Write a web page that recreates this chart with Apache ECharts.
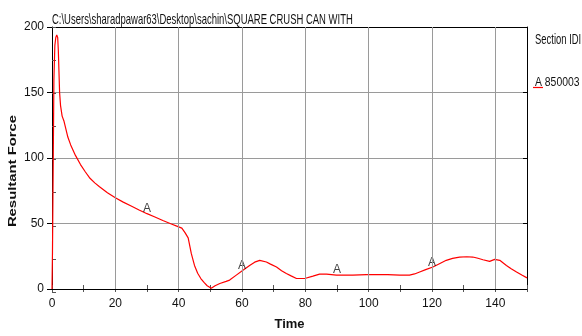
<!DOCTYPE html>
<html>
<head>
<meta charset="utf-8">
<script src="https://cdn.jsdelivr.net/npm/echarts@6/dist/echarts.min.js"></script>
<style>html,body{margin:0;padding:0;background:#fff;}#c{width:582px;height:336px;}</style>
</head>
<body>
<div id="c"></div>
<script>
const titleText = "C:\\Users\\sharadpawar63\\Desktop\\sachin\\SQUARE CRUSH CAN WITH";
const legendTitle = "Section IDI";
const seriesLabel = "A";
const seriesId = "850003";
const xName = "Time";
const yName = "Resultant Force";

const timeValues = [0,0.15,0.4,0.6,0.9,1.2,1.5,1.8,2.0,2.2,2.4,2.7,3.2,3.8,4.2,5.0,5.9,7.4,9,10.5,12,13.5,15,17.5,20,22.5,25,27.5,30,32.5,35,37.5,39.8,41,42,43,44,45,46,47,48,49,50.3,51.5,53,55,56.1,58.2,60.3,62.4,64,65.6,67.7,69,70.9,72.5,74,75.5,77.2,79.8,82.4,84.5,86.7,89.8,92,95,99.3,103,106,109.8,112.9,114.5,116.1,118,120.3,122.5,124.5,126.5,128.7,131,132.9,134.5,136.1,138.2,139.8,141.4,143.5,145,146.7,148.5,150];
const forceValues = [0,28,100,160,186,192,194,192,182,166,150,140,132,128,124,116,110,102,95,89.5,84.5,81,78,73.5,69.6,66.3,63.3,60.3,57.5,55,52.3,49.8,47.6,46.5,43,39,27,18,12,8,5,2.5,0.5,2.5,4.2,5.8,6.8,10.6,14.3,18,20.5,21.9,20.6,19,16.8,14,11.8,10,8,8,9.8,11.3,11.3,10.6,10.6,10.6,11,11,11,10.6,10.6,11.5,13,14.8,16.8,19.5,21.9,23.4,24.4,24.6,24.4,23.5,22.3,21.1,22.6,21.9,18,15.5,13,10.5,8.5];

const markTimes = [30,60,90,120];
const markForces = [57.5,13.8,10.6,16.5];

const xTicks = {min:0, max:150, interval:20, minorInterval:10};
const yTicks = {min:0, max:200, interval:50, minorInterval:25};

const sans = "'Liberation Sans', Arial, sans-serif";

const lineData = timeValues.map((t,i)=>[t, forceValues[i]]);
const markData = markTimes.map((t,i)=>[t, markForces[i]]);

const chart = echarts.init(document.getElementById('c'), null, {renderer:'canvas'});
const black = '#000';
const gridGray = '#9a9a9a';
const gridBox = {left:52, right:55, top:27, bottom:44, containLabel:false};
chart.setOption({
  animation:false,
  backgroundColor:'#fff',
  grid:[Object.assign({}, gridBox), Object.assign({}, gridBox)],
  xAxis:[
    {gridIndex:0, type:'value', position:'bottom', min:xTicks.min, max:xTicks.max, interval:xTicks.interval,
     axisLine:{show:true, onZero:false, lineStyle:{color:black, width:1}},
     axisTick:{show:false},
     splitLine:{show:true, showMinLine:false, showMaxLine:false, lineStyle:{color:gridGray, width:1}},
     axisLabel:{color:'#111', fontFamily:sans, fontSize:12, margin:9, showMaxLabel:false},
     name:xName, nameLocation:'middle', nameGap:29,
     nameTextStyle:{color:'#111', fontFamily:sans, fontWeight:'bold', fontSize:13},
     z:5
    },
    {gridIndex:0, type:'value', position:'top', min:xTicks.min, max:xTicks.max, interval:xTicks.interval,
     axisLine:{show:true, onZero:false, lineStyle:{color:black, width:1}},
     axisTick:{show:false}, axisLabel:{show:false}, splitLine:{show:false}},
    {gridIndex:1, type:'value', position:'bottom', min:xTicks.min, max:xTicks.max, interval:xTicks.minorInterval,
     axisLine:{show:false, onZero:false},
     axisTick:{show:true, inside:true, length:7, lineStyle:{color:'#555', width:1}},
     axisLabel:{show:false}, splitLine:{show:false}}
  ],
  yAxis:[
    {gridIndex:0, type:'value', position:'left', min:yTicks.min, max:yTicks.max, interval:yTicks.interval,
     axisLine:{show:true, onZero:false, lineStyle:{color:black, width:1}},
     axisTick:{show:true, length:5, lineStyle:{color:black}},
     splitLine:{show:true, showMinLine:false, showMaxLine:false, lineStyle:{color:gridGray, width:1}},
     axisLabel:{color:'#111', fontFamily:sans, fontSize:12, margin:8}
    },
    {gridIndex:0, type:'value', position:'right', min:yTicks.min, max:yTicks.max, interval:yTicks.interval,
     axisLine:{show:true, onZero:false, lineStyle:{color:black, width:1}},
     axisTick:{show:true, inside:true, length:4, lineStyle:{color:black}},
     axisLabel:{show:false}, splitLine:{show:false}},
    {gridIndex:1, type:'value', position:'left', min:yTicks.min, max:yTicks.max, interval:yTicks.minorInterval,
     axisLine:{show:false, onZero:false},
     axisTick:{show:true, inside:true, length:4, lineStyle:{color:'#555', width:1}},
     axisLabel:{show:false}, splitLine:{show:false}}
  ],
  series:[
    {type:'line', xAxisIndex:0, yAxisIndex:0, data:lineData, showSymbol:false, symbol:'none',
     lineStyle:{color:'#ff0000', width:1.2}, z:3},
    {type:'scatter', xAxisIndex:0, yAxisIndex:0, data:markData, symbolSize:0.1,
     itemStyle:{color:'rgba(0,0,0,0)'},
     label:{show:true, formatter:seriesLabel, position:'top', distance:-1, color:'#111',
            fontFamily:sans, fontSize:12}, z:4}
  ],
  graphic:[
    {type:'text', x:52, y:19.5, scaleX:0.632, scaleY:1,
     style:{text:titleText, fill:'#111', font:'15px ' + sans, textAlign:'left', textVerticalAlign:'middle'}},
    {type:'text', x:535, y:40, scaleX:0.63,
     style:{text:legendTitle, fill:'#111', font:'15px ' + sans, textAlign:'left', textVerticalAlign:'middle'}},
    {type:'text', x:535, y:82, scaleX:0.8,
     style:{text:seriesLabel + ' ' + seriesId, fill:'#111', font:'13px ' + sans, textAlign:'left', textVerticalAlign:'middle'}},
    {type:'line', shape:{x1:533, y1:87.5, x2:543, y2:87.5}, style:{stroke:'#ff0000', lineWidth:1.2}},
    {type:'text', x:13, y:171, rotation:Math.PI/2, scaleX:1.35,
     style:{text:yName, fill:'#111', font:'bold 11px ' + sans, textAlign:'center', textVerticalAlign:'middle'}}
  ]
});
</script>
</body>
</html>
